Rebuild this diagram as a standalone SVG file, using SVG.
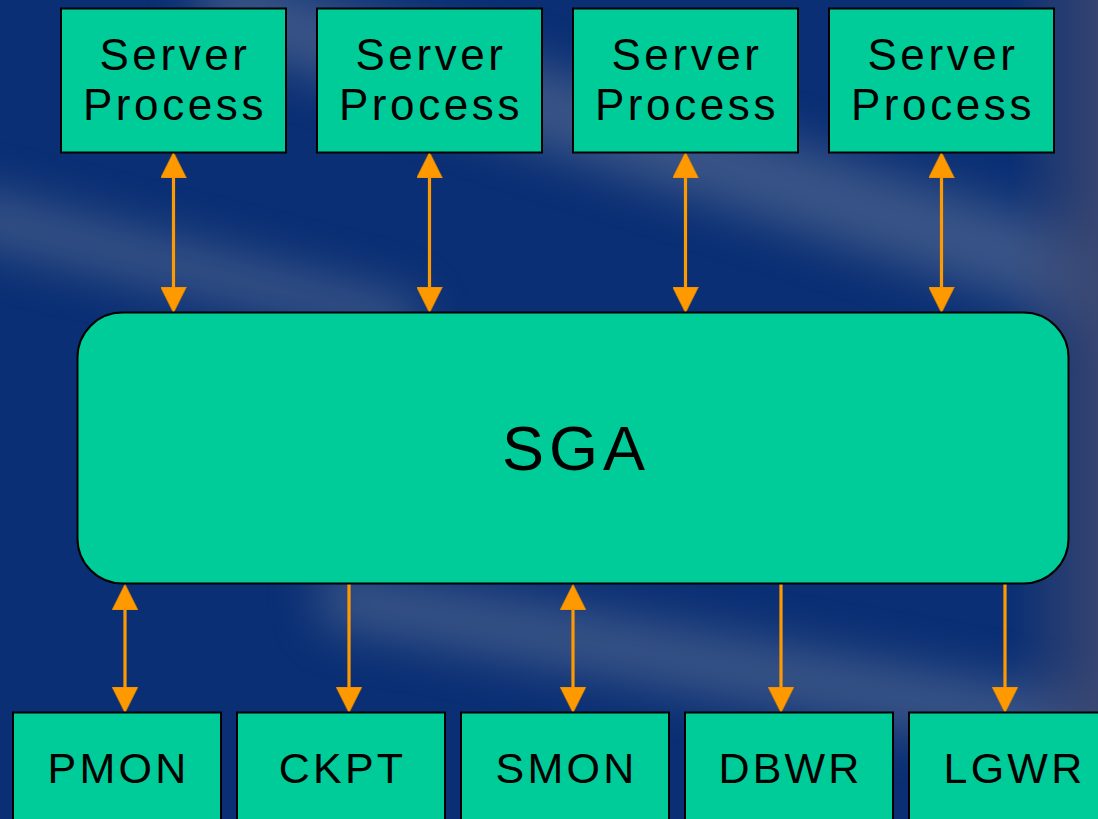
<svg xmlns="http://www.w3.org/2000/svg" width="1098" height="819" viewBox="0 0 1098 819">
  <style>
    .box { fill: #00CC99; stroke: #000000; stroke-width: 2; }
    .lbl { font-family: "Liberation Sans", Arial, sans-serif; font-size: 44px; letter-spacing: 3.6px; fill: #000000; text-anchor: middle; }
    .lbl2 { font-family: "Liberation Sans", Arial, sans-serif; font-size: 43px; letter-spacing: 3.2px; fill: #000000; text-anchor: middle; }
    .big { font-family: "Liberation Sans", Arial, sans-serif; font-size: 63px; letter-spacing: 5px; fill: #000000; text-anchor: middle; }
    .conn { stroke: #FF9900; stroke-width: 3.2; fill: none; }
  </style>
  <defs>
    <filter id="blur" x="-20%" y="-50%" width="140%" height="200%">
      <feGaussianBlur stdDeviation="24"/>
    </filter>
    <linearGradient id="edge" x1="0" y1="0" x2="1" y2="0">
      <stop offset="0" stop-color="#3a4670" stop-opacity="0"/>
      <stop offset="1" stop-color="#3a4670" stop-opacity="0.9"/>
    </linearGradient>
    <marker id="ah" markerUnits="userSpaceOnUse" markerWidth="26" markerHeight="26" viewBox="0 0 26 26" refX="0" refY="13" orient="auto-start-reverse">
      <path d="M0,0 L26,13 L0,26 z" fill="#FF9900" stroke="#D98200" stroke-width="0.6"/>
    </marker>
  </defs>

  <g id="background">
    <rect x="0" y="0" width="1098" height="819" fill="#0A2F74"/>
    <g filter="url(#blur)" fill="#6a7a9a" opacity="0.5">
      <polygon points="-40,185 420,300 420,350 -40,240"/>
      <polygon points="200,-40 1140,250 1140,340 200,40"/>
      <polygon points="320,565 1140,705 1140,775 320,625"/>
    </g>
    <rect x="1010" y="0" width="88" height="819" fill="url(#edge)"/>
  </g>

  <g id="connectors">
    <line class="conn" x1="173.5" y1="178" x2="173.5" y2="287" marker-start="url(#ah)" marker-end="url(#ah)"/>
    <line class="conn" x1="429.5" y1="178" x2="429.5" y2="287" marker-start="url(#ah)" marker-end="url(#ah)"/>
    <line class="conn" x1="685.5" y1="178" x2="685.5" y2="287" marker-start="url(#ah)" marker-end="url(#ah)"/>
    <line class="conn" x1="941.5" y1="178" x2="941.5" y2="287" marker-start="url(#ah)" marker-end="url(#ah)"/>
    <line class="conn" x1="125" y1="610" x2="125" y2="687" marker-start="url(#ah)" marker-end="url(#ah)"/>
    <line class="conn" x1="349" y1="584" x2="349" y2="687" marker-end="url(#ah)"/>
    <line class="conn" x1="573" y1="610" x2="573" y2="687" marker-start="url(#ah)" marker-end="url(#ah)"/>
    <line class="conn" x1="781" y1="584" x2="781" y2="687" marker-end="url(#ah)"/>
    <line class="conn" x1="1005" y1="584" x2="1005" y2="687" marker-end="url(#ah)"/>
  </g>

  <g id="server1">
    <rect class="box" x="61" y="8.5" width="225" height="144"/>
    <text class="lbl" x="175" y="70">Server</text>
    <text class="lbl" x="175" y="119.5">Process</text>
  </g>
  <g id="server2">
    <rect class="box" x="317" y="8.5" width="225" height="144"/>
    <text class="lbl" x="431" y="70">Server</text>
    <text class="lbl" x="431" y="119.5">Process</text>
  </g>
  <g id="server3">
    <rect class="box" x="573" y="8.5" width="225" height="144"/>
    <text class="lbl" x="687" y="70">Server</text>
    <text class="lbl" x="687" y="119.5">Process</text>
  </g>
  <g id="server4">
    <rect class="box" x="829" y="8.5" width="225" height="144"/>
    <text class="lbl" x="943" y="70">Server</text>
    <text class="lbl" x="943" y="119.5">Process</text>
  </g>

  <g id="sga">
    <rect class="box" x="77.5" y="312.5" width="991" height="271" rx="45" ry="45"/>
    <text class="big" x="576" y="470">SGA</text>
  </g>

  <g id="pmon">
    <rect class="box" x="13" y="712.5" width="208" height="130"/>
    <text class="lbl2" x="118.5" y="783">PMON</text>
  </g>
  <g id="ckpt">
    <rect class="box" x="237" y="712.5" width="208" height="130"/>
    <text class="lbl2" x="342.5" y="783">CKPT</text>
  </g>
  <g id="smon">
    <rect class="box" x="461" y="712.5" width="208" height="130"/>
    <text class="lbl2" x="566.5" y="783">SMON</text>
  </g>
  <g id="dbwr">
    <rect class="box" x="685" y="712.5" width="208" height="130"/>
    <text class="lbl2" x="790.5" y="783">DBWR</text>
  </g>
  <g id="lgwr">
    <rect class="box" x="909" y="712.5" width="208" height="130"/>
    <text class="lbl2" x="1014.5" y="783">LGWR</text>
  </g>
</svg>
